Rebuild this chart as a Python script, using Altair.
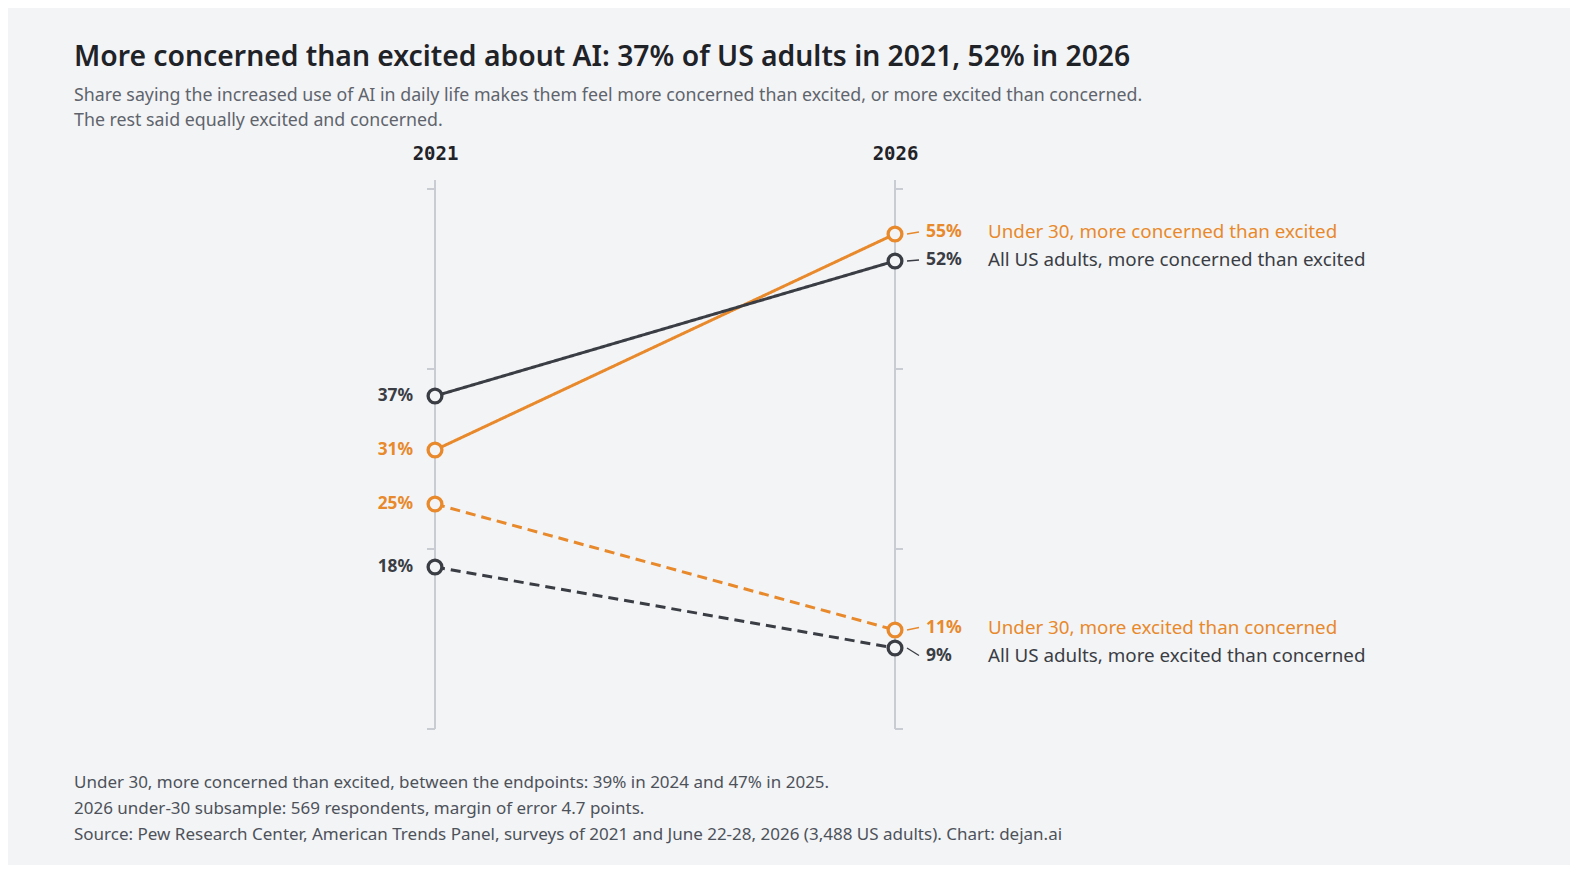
import altair as alt
import pandas as pd

# ---------------- data ----------------
years = [2021, 2026]
series = [
    "All US adults, more concerned than excited",
    "Under 30, more concerned than excited",
    "Under 30, more excited than concerned",
    "All US adults, more excited than concerned",
]
groups = ["All US adults", "Under 30", "Under 30", "All US adults"]
sentiments = ["concerned", "concerned", "excited", "excited"]
values_2021 = [37, 31, 25, 18]
values_2026 = [52, 55, 11, 9]
axis_ticks = [0, 20, 40, 60]

title_text = "More concerned than excited about AI: 37% of US adults in 2021, 52% in 2026"
subtitle_lines = [
    "Share saying the increased use of AI in daily life makes them feel more concerned than excited, or more excited than concerned.",
    "The rest said equally excited and concerned.",
]
footer_lines = [
    "Under 30, more concerned than excited, between the endpoints: 39% in 2024 and 47% in 2025.",
    "2026 under-30 subsample: 569 respondents, margin of error 4.7 points.",
    "Source: Pew Research Center, American Trends Panel, surveys of 2021 and June 22-28, 2026 (3,488 US adults). Chart: dejan.ai",
]

# ---------------- layout / style ----------------
BG = "#f3f4f6"
ORANGE = "#e8892b"
DARK = "#3a3d44"
AXIS_C = "#c9cdd3"
TEXT_DARK = "#1f2328"
SUB_C = "#5f646c"
FOOT_C = "#4d525a"
FONT = "Noto Sans"
MONO = "DejaVu Sans Mono"

W, H = 1326, 549
Y_MAX = 61
PX_PER_YEAR = 92
LEFT_PX = 361
px_per_pt = H / Y_MAX
label_nudge_px = {series[0]: -1, series[1]: -2, series[2]: -2.5, series[3]: 7.5}

rows = []
for s, g, se, v1, v2 in zip(series, groups, sentiments, values_2021, values_2026):
    for yr, v in zip(years, (v1, v2)):
        rows.append(dict(series=s, group=g, sentiment=se, year=yr, value=v, label=f"{v}%"))
df = pd.DataFrame(rows)
df["label_y"] = df["value"] - df["series"].map(label_nudge_px) / px_per_pt

df_axis = pd.DataFrame({"year": years})
df_ticks = pd.DataFrame([{"year": yr, "tick": t} for yr in years for t in axis_ticks])
df_one = pd.DataFrame({"k": [0]})

x_scale = alt.Scale(domain=[years[0] - LEFT_PX / PX_PER_YEAR,
                            years[0] + (W - LEFT_PX) / PX_PER_YEAR], nice=False, zero=False)
y_scale = alt.Scale(domain=[0, Y_MAX], nice=False, zero=False)
x_axis = alt.Axis(orient="top", values=years, format="d", title=None, domain=False,
                  ticks=False, tickSize=0, grid=False, labelFont=MONO, labelFontWeight="bold",
                  labelFontSize=19, labelColor=TEXT_DARK, labelPadding=17)
X = alt.X("year:Q", scale=x_scale, axis=x_axis)
Y = alt.Y("value:Q", scale=y_scale, axis=None)
color_scale = alt.Scale(domain=["All US adults", "Under 30"], range=[DARK, ORANGE])
color = alt.Color("group:N", scale=color_scale, legend=None)
dash = alt.StrokeDash("sentiment:N", scale=alt.Scale(domain=["concerned", "excited"],
                                                     range=[[1, 0], [10, 6]]), legend=None)

axis_lines = alt.Chart(df_axis).mark_rule(color=AXIS_C, strokeWidth=2).encode(
    x=X, y=alt.Y(datum=0, scale=y_scale, axis=None), y2=alt.Y2(datum=Y_MAX))

ticks_left = alt.Chart(df_ticks).transform_filter(alt.datum.year == years[0]).mark_rule(
    color=AXIS_C, strokeWidth=2, xOffset=-8, x2Offset=0).encode(
    x=X, x2="year:Q", y=alt.Y("tick:Q", scale=y_scale, axis=None))
ticks_right = alt.Chart(df_ticks).transform_filter(alt.datum.year == years[1]).mark_rule(
    color=AXIS_C, strokeWidth=2, xOffset=0, x2Offset=8).encode(
    x=X, x2="year:Q", y=alt.Y("tick:Q", scale=y_scale, axis=None))

base = alt.Chart(df)
lines_orange = base.transform_filter(alt.datum.group == "Under 30").mark_line(strokeWidth=3).encode(
    x=X, y=Y, color=color, strokeDash=dash, detail="series:N")
lines_dark = base.transform_filter(alt.datum.group == "All US adults").mark_line(strokeWidth=3).encode(
    x=X, y=Y, color=color, strokeDash=dash, detail="series:N")

points = base.mark_point(shape="circle", filled=False, size=190, strokeWidth=3.3,
                         fill=BG, fillOpacity=1, opacity=1).encode(
    x=X, y=Y, stroke=alt.Stroke("group:N", scale=color_scale, legend=None))

left_labels = base.transform_filter(alt.datum.year == years[0]).mark_text(
    align="right", baseline="middle", dx=-22, font=FONT, fontSize=17.3, fontWeight="bold").encode(
    x=X, y=Y, text="label:N", color=color)

right_end = base.transform_filter(alt.datum.year == years[1])
connectors = right_end.mark_rule(strokeWidth=1.3, xOffset=12, x2Offset=24).encode(
    x=X, x2="year:Q", y=Y, y2="label_y:Q", color=color)
right_values = right_end.mark_text(
    align="left", baseline="middle", dx=31, font=FONT, fontSize=17.5, fontWeight="bold").encode(
    x=X, y=alt.Y("label_y:Q", scale=y_scale, axis=None), text="label:N", color=color)
right_names = right_end.mark_text(
    align="left", baseline="middle", dx=93, font=FONT, fontSize=18.8).encode(
    x=X, y=alt.Y("label_y:Q", scale=y_scale, axis=None), text="series:N", color=color)

footer = alt.Chart(df_one).mark_text(
    align="left", baseline="alphabetic", font=FONT, fontSize=17, lineHeight=25.8, color=FOOT_C).encode(
    x=alt.value(0), y=alt.value(H + 59), text=alt.value(footer_lines))

chart = alt.layer(
    axis_lines, ticks_left, ticks_right, lines_orange, lines_dark, points,
    left_labels, connectors, right_values, right_names, footer,
).properties(
    width=W, height=H,
    title=alt.TitleParams(
        text=title_text, subtitle=subtitle_lines, anchor="start",
        font=FONT, fontSize=28.3, fontWeight=600, color=TEXT_DARK,
        subtitleFont=FONT, subtitleFontSize=17.8, subtitleColor=SUB_C,
        subtitleLineHeight=25.7, subtitlePadding=14, offset=13,
    ),
    background=BG,
    padding={"left": 66, "top": 35, "right": 170, "bottom": 22},
).configure_view(stroke=None)

chart.save("out.html", embed_options={"renderer": "svg", "actions": False})
